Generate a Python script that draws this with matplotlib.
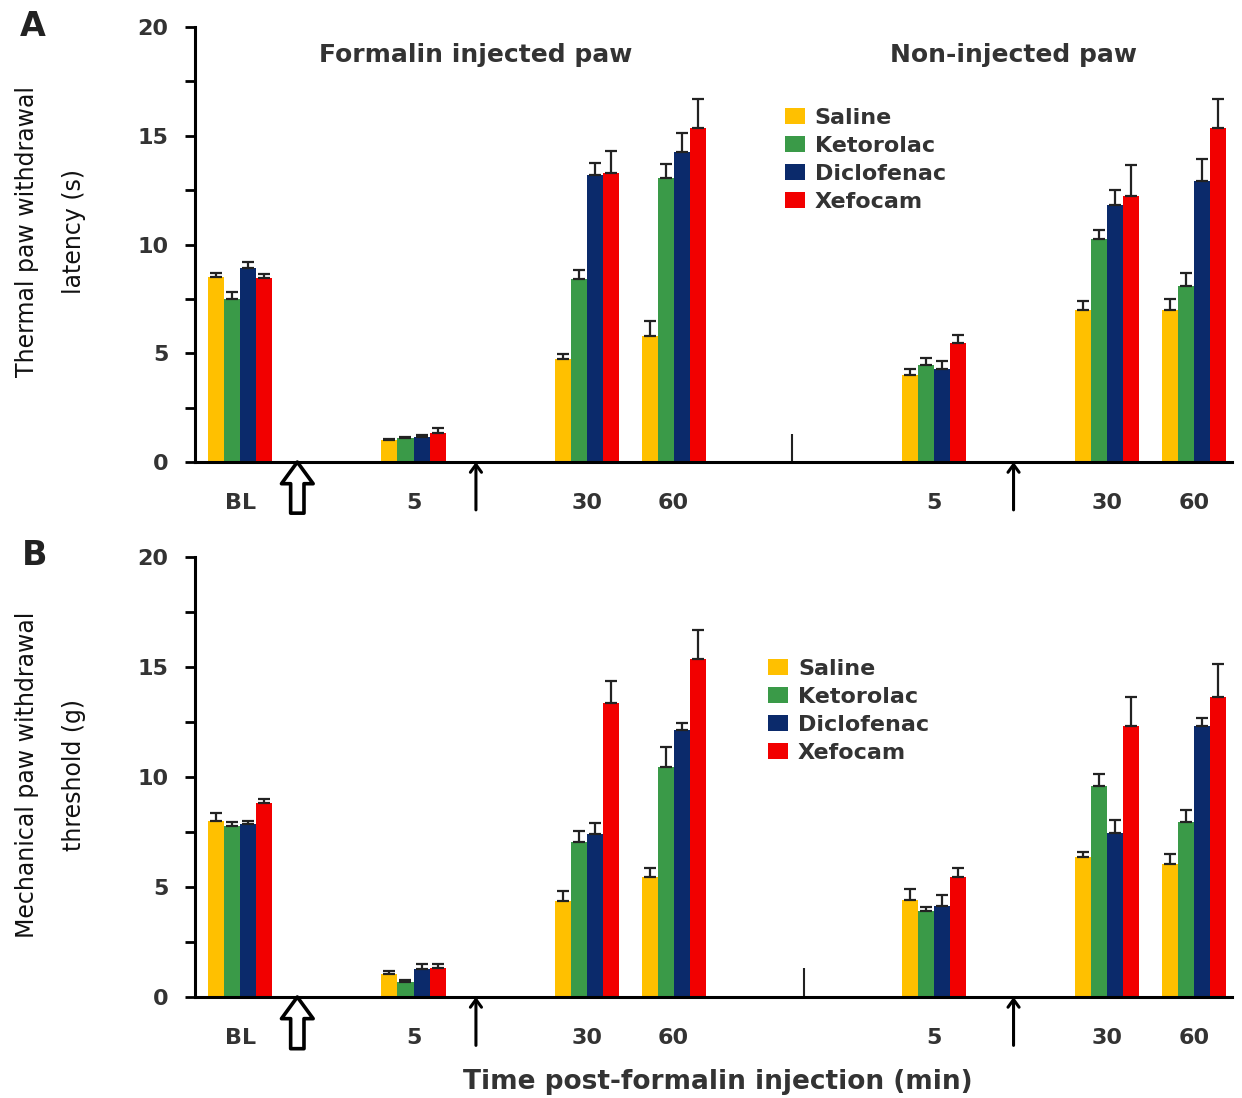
import matplotlib
matplotlib.use("Agg")
import matplotlib.pyplot as plt
import numpy as np

# Data
groups = ["BL", "5", "30", "60", "5", "30", "60"]
group_pos = [0, 2, 4, 5, 8, 10, 11]
treatments = ["Saline", "Ketorolac", "Diclofenac", "Xefocam"]
colors = ["#FFC000", "#3A9A48", "#0B2A6B", "#F20000"]

# Panel A: thermal paw withdrawal latency (s)
thermal_saline = [8.5, 1.0, 4.75, 5.8, 4.0, 7.0, 7.0]
thermal_saline_err = [0.2, 0.05, 0.2, 0.7, 0.3, 0.4, 0.5]
thermal_ketorolac = [7.5, 1.1, 8.4, 13.05, 4.45, 10.25, 8.1]
thermal_ketorolac_err = [0.3, 0.05, 0.45, 0.65, 0.35, 0.4, 0.6]
thermal_diclofenac = [8.9, 1.15, 13.2, 14.27, 4.3, 11.8, 12.9]
thermal_diclofenac_err = [0.3, 0.1, 0.55, 0.85, 0.35, 0.7, 1.05]
thermal_xefocam = [8.45, 1.35, 13.3, 15.35, 5.45, 12.25, 15.35]
thermal_xefocam_err = [0.2, 0.2, 1.0, 1.35, 0.4, 1.4, 1.35]

# Panel B: mechanical paw withdrawal threshold (g)
mech_saline = [8.0, 1.05, 4.35, 5.45, 4.4, 6.35, 6.05]
mech_saline_err = [0.35, 0.15, 0.45, 0.4, 0.5, 0.25, 0.45]
mech_ketorolac = [7.75, 0.7, 7.05, 10.45, 3.9, 9.6, 7.95]
mech_ketorolac_err = [0.2, 0.05, 0.5, 0.9, 0.2, 0.55, 0.55]
mech_diclofenac = [7.85, 1.25, 7.4, 12.15, 4.15, 7.45, 12.3]
mech_diclofenac_err = [0.15, 0.25, 0.5, 0.3, 0.5, 0.6, 0.4]
mech_xefocam = [8.8, 1.3, 13.35, 15.35, 5.45, 12.3, 13.65]
mech_xefocam_err = [0.2, 0.2, 1.0, 1.35, 0.4, 1.35, 1.5]

thermal = [thermal_saline, thermal_ketorolac, thermal_diclofenac, thermal_xefocam]
thermal_err = [thermal_saline_err, thermal_ketorolac_err,
               thermal_diclofenac_err, thermal_xefocam_err]
mech = [mech_saline, mech_ketorolac, mech_diclofenac, mech_xefocam]
mech_err = [mech_saline_err, mech_ketorolac_err, mech_diclofenac_err, mech_xefocam_err]

BAR_W = 0.185
TXT = "#333333"

fig = plt.figure(figsize=(12.42, 10.98), dpi=100)
ax_a = fig.add_axes([0.157, 0.5792, 0.835, 0.3962])
ax_b = fig.add_axes([0.157, 0.0920, 0.835, 0.4007])


def draw_panel(ax, values, errors, ylabel, ylabel_y, sep_x, legend_loc):
    x = np.array(group_pos, dtype=float)
    for i, (vals, errs) in enumerate(zip(values, errors)):
        off = (i - 1.5) * BAR_W
        ax.bar(x + off, vals, BAR_W, color=colors[i], label=treatments[i],
               zorder=2)
        # upper error bars only
        ax.errorbar(x + off, vals, yerr=[np.zeros(len(errs)), errs], fmt="none",
                    ecolor="#222222", elinewidth=1.6, capsize=4.5, capthick=1.6,
                    zorder=3)

    ax.set_xlim(-0.52, 11.44)
    ax.set_ylim(0, 20)
    ax.set_yticks([0, 5, 10, 15, 20])
    ax.set_yticks(np.arange(0, 20.1, 2.5), minor=True)
    ax.tick_params(axis="y", which="both", direction="out", length=7, width=2,
                   labelsize=16, labelcolor=TXT, pad=12)
    for lbl in ax.get_yticklabels():
        lbl.set_fontweight("bold")
    ax.set_xticks(group_pos)
    ax.set_xticklabels(groups, fontsize=16, fontweight="bold", color=TXT)
    ax.tick_params(axis="x", length=0, pad=22)

    for side in ["top", "right"]:
        ax.spines[side].set_visible(False)
    ax.spines["left"].set_linewidth(2.2)
    ax.spines["bottom"].set_linewidth(2.2)

    ax.set_ylabel(ylabel, fontsize=17, linespacing=2.2, color="#111111")
    ax.yaxis.set_label_coords(-0.105, ylabel_y)

    # small separator tick between injected / non-injected paw
    ax.vlines(sep_x, 0, 1.3, color="#222222", lw=1.5)

    # injection arrows under the axis
    ax.annotate("", xy=(0.66, 0), xytext=(0.66, -2.35), xycoords="data",
                annotation_clip=False,
                arrowprops=dict(arrowstyle="simple,head_width=0.95,head_length=0.65,tail_width=0.4",
                                mutation_scale=24, fc="white", ec="black", lw=2.6,
                                shrinkA=0, shrinkB=0))
    for ax_x in [2.72, 8.92]:
        ax.annotate("", xy=(ax_x, 0), xytext=(ax_x, -2.2), xycoords="data",
                    annotation_clip=False,
                    arrowprops=dict(arrowstyle="->,head_width=0.4,head_length=0.55",
                                    color="black", lw=2.2, shrinkA=0, shrinkB=0))

    leg = ax.legend(loc="upper left", bbox_to_anchor=legend_loc, frameon=False,
                    fontsize=16, handlelength=0.9, handleheight=0.75,
                    handletextpad=0.45, labelspacing=0.36, borderaxespad=0)
    for t in leg.get_texts():
        t.set_fontweight("bold")
        t.set_color(TXT)


draw_panel(ax_a, thermal, thermal_err, "Thermal paw withdrawal\nlatency (s)",
           0.531, 6.37, (0.56, 0.835))
draw_panel(ax_b, mech, mech_err, "Mechanical paw withdrawal\nthreshold (g)",
           0.505, 6.5, (0.544, 0.789))

ax_a.text(2.72, 18.7, "Formalin injected paw", ha="center", va="center",
          fontsize=18, fontweight="bold", color=TXT)
ax_a.text(8.92, 18.7, "Non-injected paw", ha="center", va="center",
          fontsize=18, fontweight="bold", color=TXT)

fig.text(0.016, 0.976, "A", fontsize=24, fontweight="bold", color="#222222",
         va="center")
fig.text(0.018, 0.494, "B", fontsize=24, fontweight="bold", color="#222222",
         va="center")
fig.text(0.578, 0.015, "Time post-formalin injection (min)", ha="center",
         va="center", fontsize=19, fontweight="bold", color=TXT)

fig.savefig("out.png", dpi=100)
